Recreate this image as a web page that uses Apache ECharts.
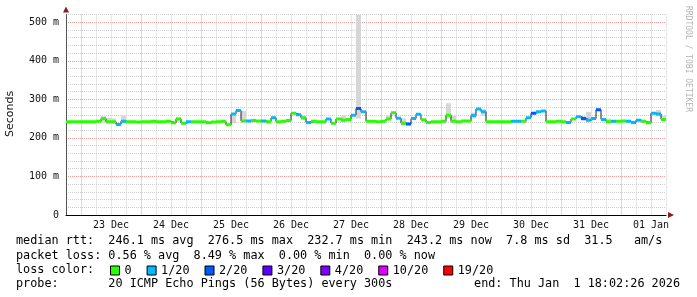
<!DOCTYPE html>
<html><head><meta charset="utf-8">
<script src="https://cdn.jsdelivr.net/npm/echarts@6/dist/echarts.min.js"></script>
<style>html,body{margin:0;padding:0;background:#fff}#c{width:697px;height:297px}</style>
</head><body><div id="c"></div>
<script>
// time sampling: hours relative to 23 Dec 00:00, one sample every 2 h
const startHour = -6;
const stepHours = 2;
const dayLabels = ['23 Dec','24 Dec','25 Dec','26 Dec','27 Dec','28 Dec','29 Dec','30 Dec','31 Dec','01 Jan'];
const yTickLabels = ['0','100 m','200 m','300 m','400 m','500 m'];
const medianMs = [
  242,242,242,242,242,242,243,250,242,242,
  235,243,242,242,241,242,242,243,242,242,
  243,239,249,238,242,242,242,242,239,241,
  242,243,234,262,271,244,244,245,244,244,
  242,252,242,243,245,264,260,252,240,243,
  242,242,249,238,249,246,248,259,276,268,
  243,243,242,243,249,265,251,238,236,250,
  261,247,240,242,242,243,259,243,242,244,
  244,258,275,268,242,242,242,242,242,243,
  243,243,252,264,268,270,242,242,243,242,
  240,249,255,250,246,250,273,248,242,243,
  243,244,243,240,246,243,239,264,262,248
];
const lossLevel = [
  0,0,0,0,0,0,0,0,0,0,
  1,1,0,0,0,0,0,0,0,0,
  0,0,0,0,1,0,0,0,0,0,
  0,0,0,1,1,0,1,0,0,1,
  0,1,0,0,0,0,1,0,1,0,
  0,0,1,0,0,0,0,1,2,1,
  0,0,0,0,0,0,1,0,2,1,
  1,0,0,0,0,0,0,0,0,0,
  0,1,1,1,0,0,0,0,0,1,
  1,0,1,2,1,1,0,0,0,0,
  1,0,1,2,1,1,2,1,0,1,
  0,0,1,1,1,0,0,1,1,0
];
const lossNames = ['0','1/20','2/20','3/20','4/20','10/20','19/20'];
const lossColors = ['#26ff00','#00b8ff','#0059ff','#5e00ff','#7e00ff','#dd00ff','#ff0000'];
const smokeBucket = [7,8,9,11,22,33,35,47,55,58,64,67,76,77,81,83,103,104,108,118,119];
const smokeLow    = [240,240,238,238,242,238,244,246,242,250,245,232,250,245,250,258,244,244,240,256,244];
const smokeHigh   = [256,252,250,258,254,262,270,258,258,520,258,250,290,258,266,274,256,268,250,272,258];
const statsRtt  = 'median rtt:  246.1 ms avg  276.5 ms max  232.7 ms min  243.2 ms now  7.8 ms sd  31.5   am/s';
const statsLoss = 'packet loss: 0.56 % avg  8.49 % max  0.00 % min  0.00 % now';
const lossTitle = 'loss color:';
const probeText = 'probe:       20 ICMP Echo Pings (56 Bytes) every 300s';
const endText   = 'end: Thu Jan  1 18:02:26 2026';
const watermark = 'RRDTOOL / TOBI OETIKER';

const xMin = startHour, xMax = startHour + medianMs.length * stepHours;
const MONO = '"DejaVu Sans Mono", monospace';
const GRAY = '#cfcfcf', RED = 'rgba(225,90,90,0.6)';

function bandItem(params, api) {
  const p0 = api.coord([api.value(0), api.value(2)]);
  const p1 = api.coord([api.value(1), api.value(2)]);
  return {type:'rect', shape:{x:p0[0], y:p0[1]-1.5, width:p1[0]-p0[0], height:3},
          style:{fill: api.visual('color')}};
}
function smokeItem(params, api) {
  const p0 = api.coord([api.value(0), api.value(3)]);
  const p1 = api.coord([api.value(1), api.value(2)]);
  return {type:'rect', shape:{x:p0[0], y:p0[1], width:p1[0]-p0[0], height:p1[1]-p0[1]},
          style:{fill:'#d6d6d6'}};
}

const smokeData = smokeBucket.map((b, k) => [startHour + b*stepHours, startHour + (b+1)*stepHours, smokeLow[k], smokeHigh[k]]);
const lineData = medianMs.map((v, i) => [startHour + i*stepHours, v]);
lineData.push([xMax, medianMs[medianMs.length-1]]);

const series = [
  {type:'custom', name:'smoke', renderItem: smokeItem, data: smokeData, clip:true,
   encode:{x:[0,1], y:[2,3]}, z:1, silent:true},
  {type:'line', name:'median', data: lineData, step:'end', symbol:'none', z:2,
   lineStyle:{color:'#202020', width:1}, silent:true}
];
lossNames.forEach((name, L) => {
  series.push({type:'custom', name, renderItem: bandItem, clip:true, z:3,
    itemStyle:{color: lossColors[L]},
    encode:{x:[0,1], y:2},
    data: medianMs.map((v, i) => lossLevel[i] === L ? [startHour+i*stepHours, startHour+(i+1)*stepHours, v] : null).filter(Boolean)});
});

const chart = echarts.init(document.getElementById('c'), null, {renderer:'canvas'});
chart.setOption({
  animation:false,
  backgroundColor:'#ffffff',
  grid:{left:66, right:31, top:14.5, bottom:82},
  xAxis:[{
    type:'value', min:xMin, max:xMax, interval:6,
    axisLine:{onZero:false, lineStyle:{color:'#000', width:1}},
    axisTick:{show:false},
    axisLabel:{formatter: v => (((v % 24) + 24) % 24 === 12) ? dayLabels[(v-12)/24] : '',
      fontFamily:MONO, fontSize:10, color:'#111', margin:5},
    splitLine:{show:true, lineStyle:{color:[GRAY, RED, GRAY, GRAY], type:[1,1], width:1}}
  },{
    type:'value', min:xMin, max:xMax, show:true, position:'bottom',
    axisLine:{show:true, onZero:false, symbol:['none','triangle'], symbolSize:[6,6], symbolOffset:[0,5],
      lineStyle:{color:'#8b1c1c', width:0.01}},
    axisTick:{show:false}, axisLabel:{show:false}, splitLine:{show:false}
  }],
  yAxis:[{
    type:'value', min:0, max:520, interval:20,
    axisLine:{show:true, onZero:false, lineStyle:{color:'#555', width:1}},
    axisTick:{show:false},
    axisLabel:{formatter: v => (v % 100 === 0) ? yTickLabels[v/100] : '',
      fontFamily:MONO, fontSize:10, color:'#111', margin:7},
    splitLine:{show:true, lineStyle:{color:[RED, GRAY, GRAY, GRAY, GRAY], type:[1,1], width:1}}
  },{
    type:'value', min:0, max:520, position:'left', show:true,
    axisLine:{show:true, onZero:false, symbol:['none','triangle'], symbolSize:[6,6], symbolOffset:[0,5],
      lineStyle:{color:'#8b1c1c', width:0.01}},
    axisTick:{show:false}, axisLabel:{show:false}, splitLine:{show:false}
  }],
  legend:{left:110, top:264.5, padding:0, itemWidth:9, itemHeight:9, itemGap:15, icon:'rect',
    selectedMode:false, data: lossNames,
    itemStyle:{borderColor:'#000', borderWidth:1},
    textStyle:{fontFamily:MONO, fontSize:11.8, color:'#000', padding:[0,0,0,0]}},
  graphic:[
    {type:'text', x:10, y:114, rotation:Math.PI/2,
     style:{text:'Seconds', font:'11px "DejaVu Sans", sans-serif', fill:'#111', align:'center', verticalAlign:'middle'}},
    {type:'text', x:688, y:59, rotation:-Math.PI/2,
     style:{text:watermark, font:'8px ' + MONO, fill:'#b4b4b4', align:'center', verticalAlign:'middle'}},
    {type:'text', x:16, y:241, style:{text:statsRtt, font:'11.8px ' + MONO, fill:'#000', verticalAlign:'middle'}},
    {type:'text', x:16, y:255.5, style:{text:statsLoss, font:'11.8px ' + MONO, fill:'#000', verticalAlign:'middle'}},
    {type:'text', x:16, y:269.5, style:{text:lossTitle, font:'11.8px ' + MONO, fill:'#000', verticalAlign:'middle'}},
    {type:'text', x:16, y:283.5, style:{text:probeText, font:'11.8px ' + MONO, fill:'#000', verticalAlign:'middle'}},
    {type:'text', x:680, y:283.5, style:{text:endText, font:'11.8px ' + MONO, fill:'#000', align:'right', verticalAlign:'middle'}}
  ],
  series
});
</script></body></html>
